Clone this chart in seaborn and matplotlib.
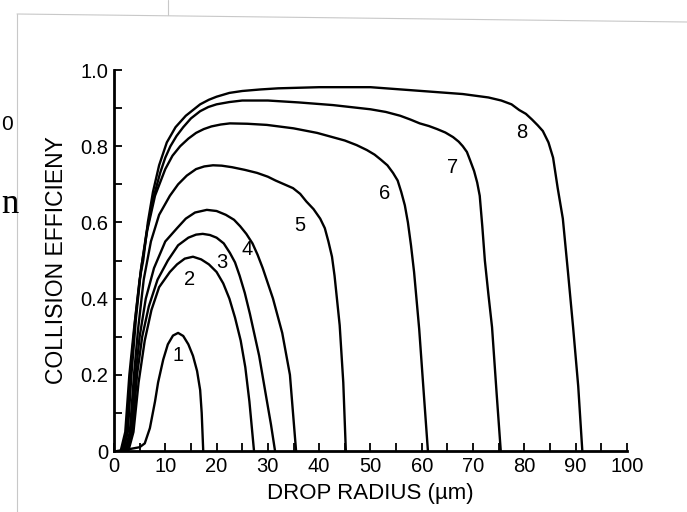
#!/usr/bin/env python3
"""
Collision efficiency vs drop radius (scanned textbook figure)
"""

import matplotlib.pyplot as plt
import seaborn as sns
import pandas as pd
from matplotlib.ticker import MultipleLocator, FixedLocator
from matplotlib.lines import Line2D

# curve data: drop radius (um) -> collision efficiency
c1_x = [0.6, 3.0, 5.0, 6.0, 7.0, 8.0, 8.6, 9.6, 10.5, 11.5, 12.5, 13.5, 14.5, 15.4, 16.2, 16.8, 17.1, 17.4]
c1_y = [0.0, 0.005, 0.01, 0.02, 0.06, 0.13, 0.18, 0.24, 0.28, 0.303, 0.31, 0.302, 0.28, 0.25, 0.21, 0.16, 0.10, 0.0]

c2_x = [2.8, 3.8, 4.8, 6.0, 7.3, 8.8, 10.9, 12.3, 13.8, 15.4, 17.0, 18.5, 20.0, 21.3, 22.5, 23.6, 24.7,
        25.6, 26.4, 27.3]
c2_y = [0.0, 0.05, 0.18, 0.29, 0.37, 0.43, 0.47, 0.49, 0.505, 0.51, 0.503, 0.49, 0.47, 0.44, 0.40, 0.35, 0.29,
        0.22, 0.13, 0.0]

c3_x = [2.6, 3.6, 4.5, 5.5, 6.8, 8.5, 10.5, 12.5, 14.5, 16.0, 17.3, 18.7, 20.0, 21.4, 22.6, 23.6, 24.5,
        25.5, 26.5, 28.3, 29.7, 30.6, 31.4]
c3_y = [0.0, 0.05, 0.20, 0.30, 0.38, 0.45, 0.50, 0.54, 0.56, 0.568, 0.57, 0.567, 0.56, 0.545, 0.52, 0.495, 0.46,
        0.415, 0.36, 0.25, 0.14, 0.07, 0.0]

c4_x = [2.4, 3.4, 4.2, 5.0, 6.2, 7.8, 10.0, 12.3, 14.0, 15.8, 18.1, 20.0, 21.8, 23.4, 24.6, 25.8, 27.0,
        28.0, 29.0, 30.0, 31.0, 32.8, 34.3, 35.5]
c4_y = [0.0, 0.05, 0.20, 0.30, 0.40, 0.48, 0.55, 0.585, 0.61, 0.626, 0.633, 0.63, 0.62, 0.607, 0.59, 0.57, 0.545,
        0.515, 0.48, 0.44, 0.40, 0.31, 0.20, 0.0]

c5_x = [2.1, 3.1, 3.9, 4.7, 5.8, 7.2, 8.8, 10.9, 12.5, 14.2, 16.0, 17.6, 19.3, 21.0, 23.0, 25.5, 27.9,
        30.0, 31.5, 33.2, 34.9, 36.3, 37.5, 38.9, 40.2, 41.1, 41.8, 42.5, 43.0, 44.0, 44.7, 45.2]
c5_y = [0.0, 0.05, 0.20, 0.32, 0.45, 0.55, 0.62, 0.67, 0.70, 0.723, 0.74, 0.747, 0.75, 0.749, 0.745, 0.738, 0.73,
        0.72, 0.71, 0.70, 0.69, 0.675, 0.655, 0.635, 0.61, 0.585, 0.55, 0.51, 0.46, 0.33, 0.18, 0.0]

c6_x = [1.8, 2.7, 3.4, 4.3, 5.3, 6.5, 8.0, 10.0, 11.4, 12.9, 14.5, 16.0, 17.5, 19.0, 20.8, 22.6, 26.0,
        29.8, 35.0, 39.6, 45.0, 47.3, 49.3, 50.8, 52.0, 53.3, 54.4, 55.3, 56.0, 56.7, 57.3, 57.9, 58.5,
        59.5, 60.4, 61.2]
c6_y = [0.0, 0.05, 0.20, 0.35, 0.48, 0.58, 0.67, 0.74, 0.775, 0.80, 0.82, 0.835, 0.845, 0.852, 0.857, 0.86, 0.859,
        0.856, 0.847, 0.835, 0.815, 0.803, 0.79, 0.778, 0.765, 0.75, 0.73, 0.71, 0.68, 0.645, 0.60, 0.54, 0.47,
        0.32, 0.15, 0.0]

c7_x = [1.5, 2.4, 3.2, 4.1, 5.2, 6.3, 7.6, 9.0, 10.0, 11.0, 12.2, 13.5, 15.0, 16.8, 18.4, 20.0, 22.5,
        25.0, 30.0, 36.0, 42.7, 50.0, 53.0, 55.8, 57.8, 59.6, 61.4, 63.0, 64.6, 66.1, 67.2, 68.0, 68.8,
        69.4, 70.2, 70.8, 71.3, 71.8, 72.3, 73.0, 73.7, 74.6, 75.4]
c7_y = [0.0, 0.05, 0.20, 0.34, 0.47, 0.57, 0.66, 0.73, 0.77, 0.80, 0.827, 0.85, 0.873, 0.892, 0.903, 0.91, 0.916,
        0.92, 0.92, 0.915, 0.908, 0.897, 0.89, 0.88, 0.87, 0.86, 0.853, 0.845, 0.836, 0.824, 0.812, 0.80, 0.785,
        0.764, 0.735, 0.705, 0.67, 0.59, 0.50, 0.41, 0.325, 0.15, 0.0]

c8_x = [1.3, 2.2, 3.0, 3.9, 5.0, 5.7, 6.6, 7.6, 8.8, 10.3, 12.0, 14.0, 16.8, 18.5, 20.0, 22.5, 25.0,
        28.5, 32.0, 40.0, 50.0, 60.0, 68.0, 73.0, 75.5, 77.5, 79.0, 80.3, 81.5, 82.6, 83.6, 84.7, 85.6,
        86.5, 87.5, 88.5, 89.5, 90.5, 91.3]
c8_y = [0.0, 0.05, 0.20, 0.32, 0.45, 0.50, 0.60, 0.68, 0.75, 0.81, 0.85, 0.88, 0.91, 0.922, 0.93, 0.94, 0.945,
        0.949, 0.952, 0.955, 0.955, 0.945, 0.937, 0.928, 0.92, 0.91, 0.895, 0.885, 0.87, 0.855, 0.84, 0.81, 0.77,
        0.69, 0.61, 0.47, 0.325, 0.17, 0.0]

curve_names = ['1', '2', '3', '4', '5', '6', '7', '8']
x_ticks = [0, 10, 20, 30, 40, 50, 60, 70, 80, 90, 100]
y_ticks = [0, 0.2, 0.4, 0.6, 0.8, 1.0]
y_tick_labels = ['0', '0.2', '0.4', '0.6', '0.8', '1.0']

curves = [(c1_x, c1_y), (c2_x, c2_y), (c3_x, c3_y), (c4_x, c4_y),
          (c5_x, c5_y), (c6_x, c6_y), (c7_x, c7_y), (c8_x, c8_y)]

rows = []
for name, (xs, ys) in zip(curve_names, curves):
    for xv, yv in zip(xs, ys):
        rows.append({'curve': name, 'radius': xv, 'efficiency': yv})
df = pd.DataFrame(rows)

sns.set_theme(style="white")
plt.rcParams['font.family'] = ['Liberation Sans', 'DejaVu Sans']

fig = plt.figure(figsize=(6.87, 5.12), dpi=100)
ax = fig.add_axes([0.1659, 0.1191, 0.7467, 0.7441])

sns.lineplot(data=df, x='radius', y='efficiency', units='curve', estimator=None,
             sort=False, color='black', linewidth=1.7, ax=ax, legend=False)

ax.set_xlim(0, 100)
ax.set_ylim(0, 1.0)
ax.xaxis.set_major_locator(FixedLocator(x_ticks))
ax.xaxis.set_minor_locator(MultipleLocator(5))
ax.yaxis.set_major_locator(FixedLocator(y_ticks))
ax.set_yticklabels(y_tick_labels)
ax.yaxis.set_minor_locator(MultipleLocator(0.1))
ax.tick_params(which='both', direction='in', length=6, width=1.3, color='black',
               bottom=True, left=True, top=False, right=False)
ax.tick_params(which='major', labelsize=14.5, pad=4, labelcolor='black')

sns.despine(ax=ax)
for side in ['left', 'bottom']:
    ax.spines[side].set_linewidth(2.0)
    ax.spines[side].set_color('black')

ax.set_xlabel('DROP RADIUS (\u00b5m)', fontsize=16, labelpad=5, color='black')
ax.set_ylabel('COLLISION EFFICIENY', fontsize=16.5, labelpad=9, color='black')

# curve numbers
label_pos = {'1': (12.5, 0.25), '2': (14.8, 0.449), '3': (21.0, 0.496), '4': (25.9, 0.528),
             '5': (36.3, 0.593), '6': (52.8, 0.677), '7': (66.1, 0.743), '8': (79.5, 0.835)}
for name in curve_names:
    px, py = label_pos[name]
    ax.text(px, py, name, fontsize=14.5, ha='center', va='center', color='black')

# bits of the scanned page around the figure
W, H = 687.0, 512.0
fig.add_artist(Line2D([17 / W, 17 / W], [0, 1 - 14 / H], transform=fig.transFigure,
                      color='#c8c8c8', linewidth=0.8))
fig.add_artist(Line2D([17 / W, 1], [1 - 14 / H, 1 - 22 / H], transform=fig.transFigure,
                      color='#c8c8c8', linewidth=0.8))
fig.add_artist(Line2D([168 / W, 168 / W], [1, 1 - 15 / H], transform=fig.transFigure,
                      color='#c8c8c8', linewidth=0.8))
fig.text(1 / W, 1 - 124 / H, '0', fontsize=15, ha='left', va='center', color='black')
fig.text(1 / W, 1 - 213 / H, 'n', fontsize=25, ha='left', va='baseline', color='black',
         family=['Liberation Serif', 'DejaVu Serif'])

fig.savefig('out.png', dpi=100)
print("Saved: out.png")
